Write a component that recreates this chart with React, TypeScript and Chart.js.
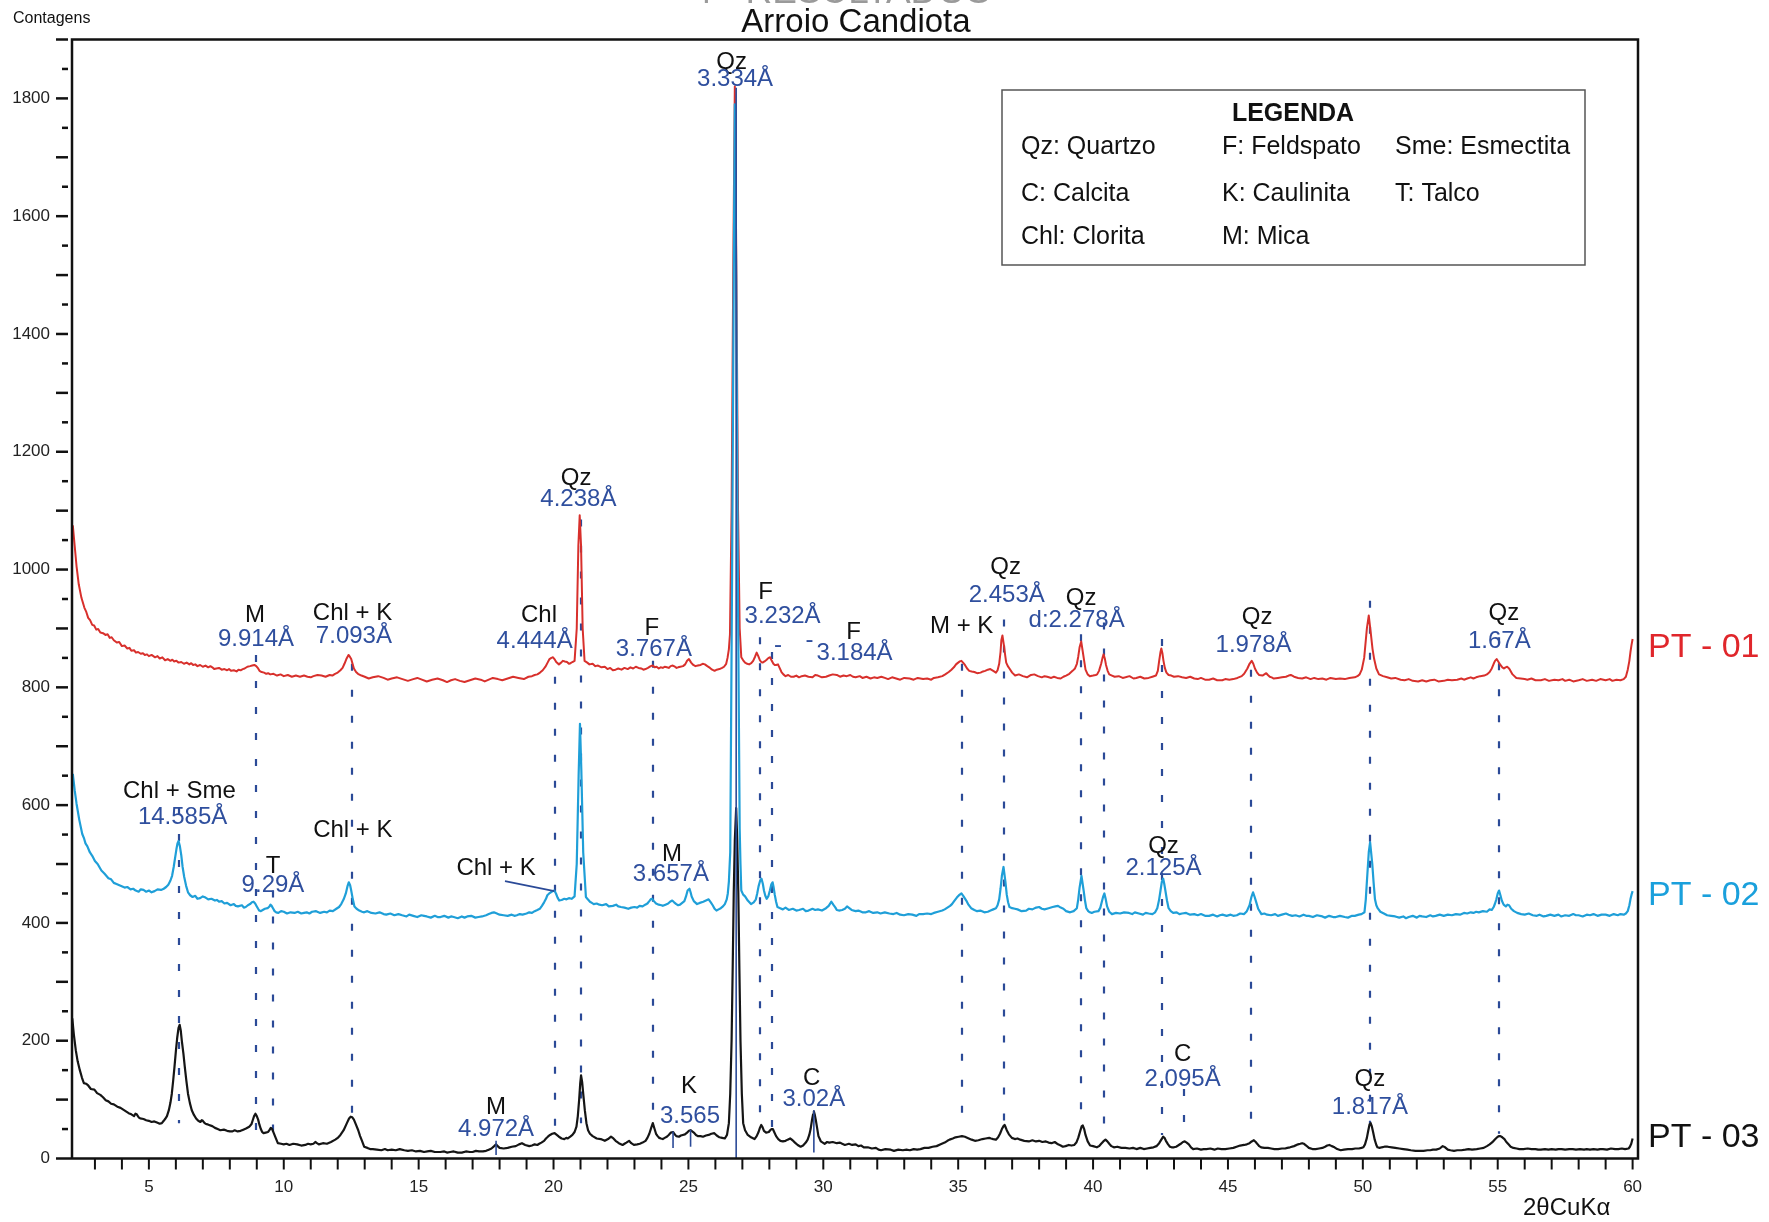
import React, { useEffect, useRef } from 'react';
import { Chart, registerables } from 'chart.js';

Chart.register(...registerables);

// ---------- DATA ----------
// [2θ (deg), counts]
const pt01: [number, number][] = [
  [2.18, 1075], [2.25, 1040], [2.32, 1005], [2.40, 975], [2.50, 952], [2.61, 935], [2.68, 928], [2.75, 918], [2.82, 914], [2.90, 906],
  [2.97, 905], [3.05, 898], [3.12, 899], [3.2, 893], [3.3, 892], [3.39, 889], [3.47, 890], [3.55, 884], [3.62, 885], [3.7, 880],
  [3.81, 876], [3.9, 877], [4.0, 870], [4.1, 871], [4.2, 866], [4.28, 867], [4.35, 862], [4.45, 863], [4.52, 859], [4.6, 860],
  [4.7, 857], [4.78, 858], [4.85, 855], [4.93, 856], [5.0, 853], [5.1, 855], [5.23, 851], [5.32, 853], [5.4, 849], [5.5, 851],
  [5.6, 846], [5.7, 848], [5.8, 845], [5.87, 847], [5.93, 844], [6.02, 845], [6.1, 842], [6.2, 843], [6.3, 840], [6.4, 842],
  [6.5, 839], [6.57, 841], [6.64, 838], [6.72, 839], [6.8, 836], [6.9, 838], [7.0, 835], [7.1, 837], [7.2, 834], [7.28, 836],
  [7.35, 834], [7.42, 831], [7.5, 832], [7.6, 833], [7.7, 830], [7.8, 831], [7.9, 829], [7.97, 831], [8.05, 828], [8.15, 829],
  [8.25, 827], [8.32, 830], [8.4, 829], [8.48, 831], [8.55, 832], [8.65, 835], [8.75, 836], [8.83, 837], [8.91, 838], [8.98, 836],
  [9.05, 832], [9.1, 828], [9.18, 826], [9.27, 825], [9.35, 823], [9.42, 824], [9.5, 822], [9.62, 823], [9.75, 820], [9.88, 822],
  [10.0, 819], [10.15, 821], [10.3, 818], [10.45, 820], [10.6, 818], [10.75, 820], [10.88, 818], [11.0, 817], [11.1, 819], [11.25, 821],
  [11.4, 820], [11.55, 818], [11.7, 821], [11.8, 820], [11.9, 823], [12.0, 825], [12.1, 829], [12.18, 833], [12.25, 840], [12.32, 848],
  [12.40, 855], [12.45, 852], [12.5, 848], [12.55, 840], [12.6, 832], [12.68, 826], [12.75, 823], [12.88, 820], [13.0, 818], [13.15, 815],
  [13.3, 817], [13.5, 819], [13.7, 816], [13.85, 813], [14.0, 815], [14.2, 817], [14.4, 814], [14.6, 811], [14.8, 814], [14.95, 816],
  [15.12, 813], [15.3, 810], [15.5, 813], [15.7, 815], [15.9, 812], [16.05, 809], [16.2, 812], [16.35, 814], [16.53, 811], [16.7, 809],
  [16.9, 812], [17.1, 815], [17.3, 813], [17.45, 810], [17.6, 813], [17.75, 816], [17.94, 814], [18.1, 812], [18.3, 815], [18.5, 818],
  [18.7, 816], [18.9, 814], [19.07, 818], [19.2, 819], [19.3, 821], [19.4, 822], [19.5, 825], [19.6, 829], [19.7, 835], [19.78, 842],
  [19.85, 848], [19.92, 850], [19.98, 851], [20.05, 847], [20.1, 843], [20.2, 839], [20.28, 842], [20.35, 845], [20.42, 844], [20.5, 843],
  [20.57, 840], [20.63, 841], [20.7, 843], [20.78, 845], [20.86, 900], [20.92, 1040], [20.97, 1092], [21.02, 1040], [21.08, 900], [21.15, 845],
  [21.25, 842], [21.33, 839], [21.45, 840], [21.55, 836], [21.65, 837], [21.78, 834], [21.9, 835], [22.0, 831], [22.1, 833], [22.2, 829],
  [22.3, 830], [22.4, 832], [22.52, 830], [22.63, 833], [22.75, 831], [22.85, 834], [22.95, 832], [23.05, 835], [23.15, 833], [23.25, 832],
  [23.33, 830], [23.41, 831], [23.5, 833], [23.6, 836], [23.68, 837], [23.75, 834], [23.82, 835], [23.9, 832], [23.97, 834], [24.05, 833],
  [24.12, 835], [24.2, 834], [24.27, 833], [24.34, 836], [24.42, 837], [24.5, 835], [24.56, 833], [24.62, 834], [24.7, 835], [24.8, 836],
  [24.88, 839], [24.95, 845], [25.02, 848], [25.1, 842], [25.18, 838], [25.26, 836], [25.35, 837], [25.45, 838], [25.53, 840], [25.61, 839],
  [25.7, 836], [25.8, 833], [25.88, 830], [25.97, 828], [26.05, 830], [26.15, 831], [26.25, 833], [26.32, 835], [26.4, 840], [26.45, 850],
  [26.5, 865], [26.54, 890], [26.6, 1100], [26.66, 1500], [26.72, 1820], [26.78, 1500], [26.84, 1100], [26.9, 900], [26.96, 851], [27.03, 846],
  [27.1, 842], [27.18, 840], [27.25, 839], [27.33, 841], [27.4, 845], [27.47, 852], [27.53, 859], [27.59, 853], [27.65, 846], [27.7, 843],
  [27.75, 842], [27.82, 844], [27.9, 847], [27.97, 850], [28.03, 851], [28.09, 845], [28.15, 840], [28.2, 838], [28.25, 838], [28.32, 839],
  [28.38, 833], [28.45, 826], [28.52, 822], [28.6, 819], [28.7, 821], [28.8, 818], [28.9, 818], [29.0, 820], [29.1, 817], [29.2, 819],
  [29.32, 820], [29.45, 818], [29.6, 817], [29.7, 821], [29.8, 820], [29.95, 817], [30.1, 818], [30.22, 820], [30.35, 822], [30.5, 821],
  [30.62, 818], [30.75, 820], [30.87, 819], [31.0, 821], [31.1, 818], [31.2, 817], [31.35, 819], [31.45, 816], [31.6, 818], [31.75, 815],
  [31.88, 817], [32.0, 816], [32.15, 818], [32.28, 816], [32.4, 814], [32.55, 817], [32.7, 815], [32.85, 813], [33.0, 816], [33.2, 815],
  [33.35, 813], [33.5, 816], [33.7, 814], [33.85, 815], [34.0, 813], [34.1, 816], [34.25, 817], [34.41, 819], [34.52, 822], [34.65, 826],
  [34.75, 830], [34.84, 834], [34.92, 839], [35.0, 842], [35.06, 844], [35.12, 845], [35.18, 842], [35.25, 838], [35.33, 832], [35.41, 828],
  [35.5, 827], [35.6, 826], [35.7, 824], [35.83, 825], [35.92, 827], [36.0, 828], [36.1, 830], [36.19, 831], [36.3, 828], [36.4, 825],
  [36.46, 829], [36.52, 840], [36.57, 860], [36.6, 880], [36.64, 888], [36.7, 870], [36.74, 855], [36.78, 842], [36.84, 836], [36.9, 832],
  [37.0, 825], [37.11, 820], [37.25, 822], [37.4, 819], [37.55, 817], [37.7, 821], [37.82, 822], [37.96, 819], [38.1, 817], [38.2, 819],
  [38.3, 818], [38.45, 816], [38.55, 818], [38.67, 816], [38.8, 815], [38.9, 818], [39.0, 820], [39.12, 823], [39.24, 828], [39.33, 832],
  [39.4, 840], [39.45, 852], [39.5, 868], [39.56, 878], [39.62, 860], [39.67, 845], [39.72, 830], [39.8, 822], [39.88, 819], [40.0, 820],
  [40.1, 821], [40.15, 822], [40.22, 828], [40.3, 840], [40.35, 850], [40.39, 856], [40.44, 848], [40.48, 838], [40.54, 828], [40.6, 822],
  [40.7, 820], [40.8, 818], [40.95, 819], [41.1, 816], [41.2, 817], [41.35, 819], [41.5, 815], [41.6, 816], [41.75, 818], [41.9, 815],
  [42.06, 816], [42.2, 818], [42.33, 820], [42.4, 828], [42.45, 845], [42.5, 860], [42.53, 866], [42.57, 858], [42.61, 845], [42.66, 833],
  [42.72, 825], [42.8, 821], [42.9, 820], [43.0, 818], [43.15, 819], [43.3, 817], [43.45, 816], [43.6, 818], [43.75, 815], [43.88, 814],
  [44.0, 816], [44.15, 813], [44.3, 813], [44.45, 815], [44.6, 812], [44.79, 812], [44.9, 814], [45.05, 813], [45.2, 814], [45.35, 816],
  [45.51, 819], [45.6, 823], [45.72, 832], [45.8, 840], [45.88, 845], [45.94, 840], [46.0, 832], [46.08, 825], [46.15, 821], [46.28, 820],
  [46.35, 822], [46.42, 824], [46.48, 821], [46.55, 818], [46.62, 817], [46.7, 815], [46.85, 816], [47.0, 817], [47.15, 818], [47.25, 820],
  [47.33, 821], [47.45, 818], [47.6, 816], [47.75, 815], [47.9, 817], [48.06, 814], [48.2, 816], [48.35, 814], [48.5, 815], [48.65, 813],
  [48.8, 816], [49.0, 814], [49.15, 815], [49.33, 814], [49.5, 816], [49.7, 817], [49.8, 819], [49.88, 822], [49.96, 830], [50.05, 850],
  [50.15, 900], [50.22, 922], [50.3, 890], [50.36, 865], [50.42, 848], [50.5, 832], [50.6, 822], [50.75, 819], [50.9, 817], [51.05, 815],
  [51.2, 816], [51.4, 813], [51.55, 812], [51.7, 814], [51.85, 811], [52.05, 810], [52.2, 812], [52.35, 810], [52.5, 812], [52.65, 813],
  [52.8, 810], [53.0, 811], [53.15, 813], [53.3, 812], [53.5, 813], [53.65, 815], [53.75, 813], [53.87, 815], [54.0, 817], [54.1, 815],
  [54.2, 817], [54.35, 819], [54.5, 820], [54.6, 822], [54.7, 826], [54.78, 832], [54.85, 840], [54.9, 845], [54.96, 848], [55.03, 843],
  [55.1, 838], [55.17, 834], [55.23, 832], [55.29, 834], [55.35, 835], [55.4, 833], [55.45, 830], [55.55, 822], [55.69, 816], [55.85, 815],
  [56.0, 814], [56.1, 813], [56.25, 815], [56.4, 812], [56.6, 812], [56.75, 814], [56.9, 811], [57.1, 813], [57.25, 812], [57.4, 814],
  [57.5, 811], [57.65, 813], [57.8, 810], [58.0, 812], [58.15, 814], [58.3, 811], [58.5, 813], [58.65, 811], [58.8, 814], [59.0, 812],
  [59.15, 814], [59.25, 811], [59.4, 813], [59.55, 812], [59.67, 814], [59.75, 818], [59.82, 830], [59.88, 845], [59.92, 860], [59.96, 872],
  [60.0, 882],
];

const pt02: [number, number][] = [
  [2.18, 653], [2.25, 625], [2.32, 602], [2.42, 575], [2.53, 551], [2.6, 543], [2.65, 535], [2.72, 530], [2.81, 520], [2.9, 514],
  [3.0, 505], [3.1, 500], [3.24, 489], [3.35, 484], [3.5, 476], [3.6, 474], [3.7, 468], [3.8, 466], [3.95, 463], [4.1, 460],
  [4.2, 461], [4.32, 457], [4.42, 458], [4.51, 455], [4.62, 453], [4.7, 457], [4.8, 456], [4.9, 453], [5.0, 455], [5.1, 452],
  [5.21, 454], [5.32, 457], [5.45, 456], [5.55, 458], [5.64, 461], [5.72, 465], [5.8, 472], [5.86, 480], [5.92, 495], [5.97, 510],
  [6.02, 525], [6.06, 535], [6.10, 539], [6.15, 530], [6.2, 515], [6.25, 495], [6.31, 478], [6.38, 463], [6.45, 452], [6.53, 447],
  [6.62, 444], [6.72, 446], [6.8, 441], [6.9, 442], [7.0, 445], [7.1, 443], [7.2, 440], [7.32, 441], [7.45, 438], [7.52, 439],
  [7.6, 436], [7.7, 437], [7.8, 433], [7.9, 434], [8.03, 430], [8.15, 432], [8.22, 429], [8.3, 428], [8.45, 430], [8.52, 426],
  [8.59, 427], [8.67, 430], [8.75, 432], [8.82, 435], [8.88, 436], [8.94, 433], [9.0, 428], [9.05, 424], [9.09, 421], [9.15, 420],
  [9.22, 422], [9.3, 424], [9.4, 425], [9.47, 428], [9.51, 431], [9.55, 429], [9.6, 425], [9.66, 420], [9.72, 418], [9.8, 417],
  [9.9, 420], [10.0, 419], [10.12, 416], [10.25, 418], [10.4, 417], [10.52, 419], [10.65, 416], [10.75, 417], [10.85, 418], [10.95, 416],
  [11.05, 419], [11.2, 420], [11.35, 417], [11.5, 419], [11.6, 418], [11.7, 421], [11.82, 420], [11.95, 424], [12.05, 427], [12.13, 432],
  [12.22, 440], [12.3, 450], [12.36, 462], [12.41, 469], [12.46, 464], [12.5, 455], [12.56, 440], [12.62, 428], [12.7, 424], [12.8, 421],
  [12.9, 419], [12.98, 418], [13.1, 420], [13.25, 417], [13.4, 416], [13.55, 418], [13.7, 415], [13.8, 414], [13.95, 416], [14.1, 413],
  [14.25, 415], [14.39, 413], [14.55, 411], [14.65, 414], [14.8, 412], [14.95, 410], [15.1, 413], [15.2, 412], [15.3, 411], [15.45, 409],
  [15.6, 412], [15.7, 410], [15.81, 410], [15.95, 412], [16.1, 409], [16.2, 411], [16.3, 410], [16.45, 408], [16.6, 411], [16.7, 409],
  [16.8, 411], [16.95, 412], [17.1, 409], [17.22, 410], [17.35, 411], [17.5, 413], [17.6, 415], [17.7, 417], [17.79, 418], [17.9, 416],
  [18.0, 414], [18.15, 413], [18.3, 412], [18.45, 414], [18.55, 412], [18.64, 413], [18.75, 415], [18.85, 414], [19.0, 416], [19.1, 418],
  [19.2, 417], [19.3, 420], [19.4, 422], [19.49, 424], [19.57, 429], [19.65, 435], [19.72, 441], [19.77, 447], [19.84, 450], [19.9, 452],
  [19.97, 454], [20.03, 455], [20.09, 450], [20.15, 443], [20.21, 438], [20.3, 439], [20.4, 441], [20.48, 440], [20.57, 442], [20.67, 441],
  [20.78, 445], [20.86, 500], [20.93, 650], [20.98, 738], [21.03, 660], [21.1, 520], [21.2, 444], [21.27, 440], [21.35, 436], [21.42, 434],
  [21.49, 432], [21.6, 433], [21.7, 431], [21.8, 430], [21.95, 432], [22.05, 428], [22.2, 429], [22.32, 431], [22.4, 428], [22.5, 427],
  [22.63, 426], [22.77, 424], [22.88, 426], [23.0, 427], [23.1, 426], [23.19, 429], [23.3, 428], [23.4, 431], [23.48, 433], [23.55, 437],
  [23.6, 440], [23.65, 441], [23.72, 437], [23.8, 433], [23.9, 431], [24.0, 430], [24.05, 429], [24.15, 431], [24.25, 433], [24.32, 436],
  [24.4, 438], [24.47, 435], [24.55, 432], [24.62, 430], [24.69, 431], [24.77, 434], [24.85, 437], [24.91, 445], [24.97, 455], [25.04, 458],
  [25.08, 452], [25.12, 445], [25.2, 437], [25.32, 432], [25.42, 434], [25.55, 436], [25.65, 438], [25.75, 440], [25.83, 435], [25.9, 430],
  [25.97, 424], [26.04, 421], [26.12, 423], [26.2, 425], [26.28, 428], [26.35, 432], [26.42, 440], [26.46, 450], [26.5, 470], [26.55, 520],
  [26.62, 1000], [26.68, 1500], [26.72, 1790], [26.77, 1500], [26.83, 1000], [26.9, 560], [26.93, 500], [26.96, 455], [27.03, 448], [27.1, 445],
  [27.2, 438], [27.32, 432], [27.42, 435], [27.5, 440], [27.55, 450], [27.6, 462], [27.66, 472], [27.71, 475], [27.76, 466], [27.8, 455],
  [27.85, 446], [27.9, 441], [27.96, 445], [28.02, 455], [28.07, 465], [28.12, 469], [28.16, 460], [28.2, 448], [28.25, 436], [28.3, 427],
  [28.4, 425], [28.5, 423], [28.6, 426], [28.72, 422], [28.87, 424], [29.0, 421], [29.1, 422], [29.25, 424], [29.35, 420], [29.45, 421],
  [29.6, 424], [29.7, 422], [29.8, 423], [29.95, 421], [30.1, 425], [30.2, 429], [30.3, 436], [30.37, 431], [30.45, 426], [30.5, 422],
  [30.58, 421], [30.7, 422], [30.8, 424], [30.88, 428], [30.94, 426], [31.05, 422], [31.2, 420], [31.3, 421], [31.45, 418], [31.58, 418],
  [31.7, 420], [31.85, 417], [32.0, 418], [32.12, 416], [32.28, 418], [32.45, 416], [32.6, 415], [32.72, 417], [32.85, 414], [32.99, 413],
  [33.15, 415], [33.3, 414], [33.45, 412], [33.55, 415], [33.7, 415], [33.85, 416], [34.0, 415], [34.1, 417], [34.25, 419], [34.41, 421],
  [34.5, 423], [34.6, 426], [34.7, 429], [34.77, 432], [34.85, 437], [34.95, 443], [35.03, 447], [35.12, 450], [35.2, 445], [35.3, 438],
  [35.38, 431], [35.48, 425], [35.6, 422], [35.7, 420], [35.82, 421], [35.97, 418], [36.1, 419], [36.2, 421], [36.3, 423], [36.4, 425],
  [36.46, 430], [36.52, 440], [36.57, 458], [36.62, 480], [36.68, 495], [36.75, 470], [36.8, 448], [36.85, 435], [36.9, 427], [37.0, 425],
  [37.1, 424], [37.2, 423], [37.35, 420], [37.52, 421], [37.62, 424], [37.75, 423], [37.89, 426], [38.0, 427], [38.1, 424], [38.2, 423],
  [38.35, 425], [38.5, 427], [38.6, 428], [38.7, 429], [38.8, 426], [38.9, 424], [39.0, 420], [39.15, 418], [39.28, 420], [39.4, 425],
  [39.45, 440], [39.5, 460], [39.57, 480], [39.65, 455], [39.7, 438], [39.75, 425], [39.82, 420], [39.88, 418], [39.95, 417], [40.05, 419],
  [40.2, 420], [40.27, 426], [40.32, 435], [40.37, 444], [40.42, 450], [40.47, 440], [40.52, 428], [40.6, 419], [40.7, 415], [40.85, 417],
  [41.0, 416], [41.15, 418], [41.33, 417], [41.45, 415], [41.55, 418], [41.7, 416], [41.85, 414], [41.95, 417], [42.06, 416], [42.2, 415],
  [42.3, 418], [42.38, 425], [42.45, 440], [42.5, 455], [42.55, 470], [42.6, 475], [42.64, 466], [42.68, 455], [42.74, 438], [42.8, 425],
  [42.88, 420], [42.97, 417], [43.1, 418], [43.2, 415], [43.3, 416], [43.45, 417], [43.6, 414], [43.75, 415], [43.88, 413], [44.0, 415],
  [44.15, 412], [44.3, 412], [44.45, 414], [44.6, 411], [44.7, 413], [44.8, 414], [44.95, 412], [45.1, 414], [45.2, 412], [45.33, 413],
  [45.45, 416], [45.6, 415], [45.7, 420], [45.8, 430], [45.87, 444], [45.93, 452], [45.99, 444], [46.05, 435], [46.12, 424], [46.24, 415],
  [46.35, 416], [46.45, 414], [46.6, 413], [46.75, 415], [46.85, 412], [47.0, 414], [47.15, 416], [47.25, 414], [47.38, 412], [47.51, 413],
  [47.65, 411], [47.8, 414], [47.9, 412], [48.0, 412], [48.15, 410], [48.3, 413], [48.5, 411], [48.6, 409], [48.75, 412], [48.9, 410],
  [49.0, 410], [49.15, 412], [49.33, 410], [49.45, 409], [49.6, 412], [49.7, 412], [49.85, 414], [49.95, 415], [50.06, 418], [50.11, 440],
  [50.15, 470], [50.22, 520], [50.27, 537], [50.35, 500], [50.4, 468], [50.45, 440], [50.5, 430], [50.55, 425], [50.65, 419], [50.78, 416],
  [50.9, 413], [51.05, 412], [51.2, 411], [51.35, 409], [51.5, 411], [51.6, 408], [51.7, 410], [51.85, 412], [52.0, 409], [52.1, 412],
  [52.2, 411], [52.35, 410], [52.5, 413], [52.6, 411], [52.7, 412], [52.85, 414], [53.0, 412], [53.15, 414], [53.3, 413], [53.45, 415],
  [53.6, 414], [53.75, 417], [53.87, 416], [54.0, 418], [54.1, 417], [54.2, 419], [54.3, 418], [54.45, 420], [54.6, 419], [54.7, 423],
  [54.78, 422], [54.85, 427], [54.9, 433], [54.95, 440], [55.0, 450], [55.05, 455], [55.1, 447], [55.15, 438], [55.22, 431], [55.3, 428],
  [55.36, 431], [55.42, 430], [55.5, 424], [55.6, 420], [55.72, 417], [55.87, 415], [56.0, 414], [56.15, 416], [56.3, 413], [56.45, 412],
  [56.55, 414], [56.7, 411], [56.8, 412], [56.95, 414], [57.1, 412], [57.25, 414], [57.35, 411], [57.5, 413], [57.65, 412], [57.8, 415],
  [57.9, 413], [58.0, 413], [58.15, 411], [58.3, 414], [58.42, 413], [58.55, 415], [58.7, 412], [58.85, 414], [59.0, 414], [59.15, 412],
  [59.3, 415], [59.45, 413], [59.55, 415], [59.67, 414], [59.75, 416], [59.82, 420], [59.88, 430], [59.92, 440], [59.96, 448], [60.0, 454],
];

const pt03: [number, number][] = [
  [2.16, 238], [2.22, 210], [2.29, 184], [2.36, 165], [2.44, 150], [2.52, 137], [2.59, 128], [2.67, 127], [2.75, 124], [2.85, 118],
  [2.98, 117], [3.08, 111], [3.2, 108], [3.3, 104], [3.40, 99], [3.5, 97], [3.6, 93], [3.7, 92], [3.83, 88], [3.95, 86],
  [4.05, 83], [4.15, 80], [4.25, 77], [4.35, 75], [4.45, 72], [4.5, 76], [4.55, 75], [4.62, 70], [4.68, 68], [4.8, 67],
  [4.9, 65], [5.0, 64], [5.1, 62], [5.2, 63], [5.3, 61], [5.4, 59], [5.48, 60], [5.55, 64], [5.6, 67], [5.67, 72],
  [5.74, 82], [5.8, 95], [5.85, 110], [5.9, 132], [5.95, 156], [6.0, 182], [6.05, 205], [6.1, 222], [6.14, 227], [6.18, 218],
  [6.22, 200], [6.28, 178], [6.33, 156], [6.39, 132], [6.45, 110], [6.52, 94], [6.59, 82], [6.67, 74], [6.75, 68], [6.83, 64],
  [6.91, 62], [6.96, 65], [7.0, 64], [7.05, 61], [7.1, 59], [7.17, 58], [7.23, 57], [7.35, 55], [7.45, 52], [7.55, 50],
  [7.65, 48], [7.78, 49], [7.9, 47], [8.0, 46], [8.1, 46], [8.18, 48], [8.29, 46], [8.4, 47], [8.5, 49], [8.6, 51],
  [8.72, 54], [8.8, 58], [8.85, 65], [8.9, 72], [8.95, 76], [9.0, 72], [9.05, 66], [9.1, 57], [9.15, 50], [9.2, 45],
  [9.25, 43], [9.33, 44], [9.42, 45], [9.48, 49], [9.52, 52], [9.57, 50], [9.63, 43], [9.7, 35], [9.78, 26], [9.9, 25],
  [10.0, 24], [10.1, 25], [10.21, 23], [10.35, 25], [10.5, 24], [10.65, 22], [10.8, 23], [10.9, 25], [11.0, 24], [11.1, 25],
  [11.17, 28], [11.23, 26], [11.3, 24], [11.45, 26], [11.6, 25], [11.75, 28], [11.91, 32], [12.0, 35], [12.1, 40], [12.22, 48],
  [12.34, 60], [12.42, 68], [12.48, 71], [12.54, 70], [12.6, 66], [12.68, 57], [12.76, 48], [12.83, 38], [12.9, 30], [12.98, 20],
  [13.1, 18], [13.2, 16], [13.3, 16], [13.45, 15], [13.62, 14], [13.75, 16], [13.85, 14], [14.0, 15], [14.15, 14], [14.3, 16],
  [14.47, 14], [14.6, 13], [14.75, 14], [14.9, 12], [15.05, 13], [15.2, 11], [15.32, 12], [15.45, 13], [15.6, 11], [15.8, 11],
  [15.95, 12], [16.05, 10], [16.17, 11], [16.3, 12], [16.45, 10], [16.6, 10], [16.75, 12], [16.9, 11], [17.0, 11], [17.12, 13],
  [17.24, 12], [17.38, 12], [17.5, 13], [17.6, 15], [17.7, 17], [17.8, 21], [17.87, 24], [17.93, 21], [18.0, 18], [18.15, 17],
  [18.3, 18], [18.45, 20], [18.6, 21], [18.72, 24], [18.83, 26], [18.95, 23], [19.1, 21], [19.2, 22], [19.3, 24], [19.4, 23],
  [19.47, 25], [19.55, 27], [19.65, 30], [19.72, 34], [19.79, 37], [19.87, 40], [19.95, 42], [20.04, 43], [20.12, 40], [20.2, 37],
  [20.3, 34], [20.4, 33], [20.47, 35], [20.53, 34], [20.62, 37], [20.7, 40], [20.78, 45], [20.85, 54], [20.9, 72], [20.95, 100],
  [20.99, 128], [21.02, 141], [21.06, 130], [21.1, 110], [21.16, 82], [21.22, 60], [21.28, 48], [21.35, 42], [21.45, 38], [21.6, 34],
  [21.75, 33], [21.9, 30], [22.02, 33], [22.13, 37], [22.22, 34], [22.3, 30], [22.42, 26], [22.56, 23], [22.63, 25], [22.7, 27],
  [22.8, 30], [22.88, 26], [22.98, 23], [23.1, 24], [23.2, 25], [23.3, 27], [23.41, 30], [23.48, 35], [23.55, 42], [23.62, 52],
  [23.68, 60], [23.74, 51], [23.8, 42], [23.86, 38], [23.92, 35], [23.98, 34], [24.05, 33], [24.12, 35], [24.2, 37], [24.27, 40],
  [24.35, 44], [24.43, 45], [24.49, 41], [24.55, 38], [24.65, 37], [24.72, 39], [24.79, 40], [24.87, 41], [24.95, 44], [25.02, 47],
  [25.08, 48], [25.14, 46], [25.2, 44], [25.28, 40], [25.35, 38], [25.45, 38], [25.54, 37], [25.65, 39], [25.75, 40], [25.85, 42],
  [25.96, 43], [26.05, 39], [26.15, 36], [26.25, 35], [26.35, 34], [26.43, 40], [26.5, 60], [26.55, 110], [26.6, 200], [26.64, 320],
  [26.68, 450], [26.72, 540], [26.77, 595], [26.81, 540], [26.85, 450], [26.89, 320], [26.93, 200], [26.98, 110], [27.03, 60], [27.1, 48],
  [27.2, 40], [27.32, 36], [27.45, 33], [27.53, 38], [27.6, 45], [27.65, 52], [27.70, 57], [27.75, 53], [27.8, 47], [27.88, 44],
  [27.98, 45], [28.03, 48], [28.08, 50], [28.13, 50], [28.18, 45], [28.25, 38], [28.33, 33], [28.41, 30], [28.5, 29], [28.6, 30],
  [28.68, 32], [28.77, 34], [28.86, 31], [28.95, 27], [29.05, 23], [29.16, 20], [29.25, 22], [29.35, 27], [29.42, 32], [29.48, 40],
  [29.53, 50], [29.58, 65], [29.62, 75], [29.65, 80], [29.68, 75], [29.72, 66], [29.77, 52], [29.82, 38], [29.87, 33], [29.91, 29],
  [29.98, 27], [30.05, 25], [30.14, 28], [30.22, 27], [30.35, 28], [30.5, 26], [30.62, 27], [30.7, 25], [30.8, 23], [30.95, 25],
  [31.07, 23], [31.2, 24], [31.3, 21], [31.4, 22], [31.5, 19], [31.65, 19], [31.8, 17], [31.95, 18], [32.05, 15], [32.14, 14],
  [32.3, 16], [32.5, 15], [32.62, 13], [32.78, 15], [32.95, 14], [33.08, 15], [33.21, 14], [33.35, 16], [33.48, 15], [33.6, 16],
  [33.75, 18], [33.9, 18], [34.05, 20], [34.2, 21], [34.35, 24], [34.5, 27], [34.6, 30], [34.68, 32], [34.8, 34], [34.9, 36],
  [35.02, 37], [35.14, 38], [35.25, 37], [35.35, 35], [35.5, 32], [35.62, 30], [35.75, 31], [35.9, 33], [36.02, 34], [36.15, 35],
  [36.22, 34], [36.3, 33], [36.4, 32], [36.48, 36], [36.55, 42], [36.62, 50], [36.68, 55], [36.72, 57], [36.76, 53], [36.8, 48],
  [36.88, 41], [36.99, 35], [37.1, 33], [37.2, 34], [37.3, 32], [37.45, 30], [37.62, 29], [37.75, 31], [37.88, 29], [38.0, 30],
  [38.12, 28], [38.25, 29], [38.35, 27], [38.46, 26], [38.58, 28], [38.7, 24], [38.8, 22], [38.88, 20], [38.98, 21], [39.1, 23],
  [39.2, 22], [39.30, 23], [39.38, 27], [39.45, 35], [39.52, 46], [39.58, 55], [39.62, 56], [39.67, 50], [39.72, 40], [39.8, 29],
  [39.89, 22], [40.0, 21], [40.14, 19], [40.22, 21], [40.3, 25], [40.38, 29], [40.46, 32], [40.53, 29], [40.6, 25], [40.68, 21],
  [40.77, 19], [40.9, 20], [41.05, 18], [41.2, 18], [41.35, 17], [41.48, 18], [41.61, 16], [41.75, 18], [41.88, 16], [42.0, 17],
  [42.12, 18], [42.24, 19], [42.35, 21], [42.45, 26], [42.53, 32], [42.6, 37], [42.65, 35], [42.7, 30], [42.78, 24], [42.85, 20],
  [42.91, 19], [43.0, 19], [43.08, 20], [43.15, 22], [43.25, 25], [43.33, 28], [43.4, 29], [43.47, 27], [43.55, 24], [43.63, 19],
  [43.71, 16], [43.85, 17], [44.0, 15], [44.1, 16], [44.2, 16], [44.35, 17], [44.5, 15], [44.62, 17], [44.76, 16], [44.9, 16],
  [45.05, 17], [45.2, 18], [45.32, 20], [45.45, 22], [45.6, 23], [45.7, 24], [45.8, 26], [45.88, 29], [45.96, 31], [46.03, 28],
  [46.1, 24], [46.16, 21], [46.23, 19], [46.35, 18], [46.48, 18], [46.6, 17], [46.72, 16], [46.86, 16], [47.0, 17], [47.12, 17],
  [47.2, 18], [47.3, 19], [47.45, 21], [47.6, 24], [47.68, 25], [47.75, 26], [47.82, 25], [47.9, 22], [48.0, 18], [48.13, 16],
  [48.25, 16], [48.38, 17], [48.5, 18], [48.6, 20], [48.68, 22], [48.76, 23], [48.85, 21], [48.95, 19], [49.05, 16], [49.18, 14],
  [49.3, 15], [49.45, 16], [49.6, 16], [49.72, 17], [49.85, 17], [49.95, 18], [50.02, 19], [50.08, 24], [50.15, 35], [50.2, 47],
  [50.25, 58], [50.29, 60], [50.33, 55], [50.38, 45], [50.44, 32], [50.5, 23], [50.54, 19], [50.62, 18], [50.7, 19], [50.8, 20],
  [50.92, 20], [51.07, 19], [51.2, 18], [51.35, 17], [51.5, 16], [51.65, 15], [51.78, 14], [51.95, 13], [52.12, 13], [52.25, 13],
  [52.4, 14], [52.5, 14], [52.6, 15], [52.72, 15], [52.85, 17], [52.96, 21], [53.05, 19], [53.15, 15], [53.25, 14], [53.38, 13],
  [53.5, 14], [53.65, 14], [53.8, 15], [53.92, 16], [54.05, 15], [54.22, 16], [54.35, 17], [54.48, 18], [54.6, 21], [54.7, 24],
  [54.78, 27], [54.85, 30], [54.93, 34], [55.0, 37], [55.05, 38], [55.1, 38], [55.17, 36], [55.25, 33], [55.32, 28], [55.4, 24],
  [55.48, 20], [55.58, 18], [55.7, 17], [55.8, 16], [55.95, 16], [56.11, 17], [56.25, 16], [56.4, 16], [56.5, 15], [56.6, 15],
  [56.75, 16], [56.88, 15], [57.0, 16], [57.15, 15], [57.25, 16], [57.37, 16], [57.5, 15], [57.65, 16], [57.78, 16], [57.9, 15],
  [58.05, 16], [58.2, 15], [58.3, 16], [58.42, 15], [58.55, 16], [58.7, 15], [58.8, 16], [58.9, 16], [59.05, 15], [59.2, 17],
  [59.35, 16], [59.47, 16], [59.6, 17], [59.72, 16], [59.85, 17], [59.9, 20], [59.95, 25], [60.0, 34],
];

const seriesNames = ['PT - 01', 'PT - 02', 'PT - 03'];
const seriesNameY = [868, 447, 35];

// peak marker dashed lines: [2θ, top count, bottom count]
const dashedLines: [number, number, number][] = [
  [6.13, 595, 60], [8.97, 855, 42], [9.6, 455, 46], [12.52, 840, 60], [20.04, 818, 45], [21.0, 1085, 60],
  [23.68, 845, 62], [27.65, 885, 48], [28.11, 860, 38], [35.13, 840, 75], [36.68, 915, 60], [39.56, 890, 60],
  [40.4, 910, 35], [42.57, 882, 40], [43.36, 118, 45], [45.87, 830, 40], [50.26, 947, 60], [55.06, 885, 42],
];
// solid marker segments: [x1, y1, x2, y2]
const solidLines: [number, number, number, number][] = [
  [26.77, 1818, 26.77, 0], [17.87, 30, 17.87, 6], [24.43, 46, 24.43, 18], [25.08, 49, 25.08, 20],
  [29.65, 82, 29.65, 10], [18.2, 471, 20.03, 454],
];
// mineral labels [text, 2θ, count]
const mineralLabels: [string, number, number][] = [
  ['M', 8.93, 922], ['Chl + K', 12.55, 926], ['Chl', 19.46, 922], ['Qz', 20.84, 1154], ['F', 23.64, 900],
  ['Qz', 26.6, 1862], ['F', 27.86, 961], ['F', 31.12, 894], ['M + K', 35.13, 903], ['Qz', 36.76, 1003],
  ['Qz', 39.56, 951], ['Qz', 46.08, 919], ['Qz', 55.23, 926],
  ['Chl + Sme', 6.13, 624], ['T', 9.6, 496], ['Chl + K', 12.56, 557], ['Chl + K', 17.87, 492], ['M', 24.39, 517],
  ['Qz', 42.61, 530],
  ['M', 17.87, 86], ['K', 25.02, 122], ['C', 29.57, 136], ['C', 43.32, 176], ['Qz', 50.26, 134],
];
// d-spacing labels [text, 2θ, count]
const spacingLabels: [string, number, number][] = [
  ['9.914Å', 8.97, 882], ['7.093Å', 12.6, 886], ['4.444Å', 19.3, 878], ['4.238Å', 20.92, 1120], ['3.767Å', 23.72, 865],
  ['3.334Å', 26.73, 1832], ['3.232Å', 28.49, 921], ['3.184Å', 31.16, 857], ['2.453Å', 36.8, 957],
  ['d:2.278Å', 39.39, 913], ['1.978Å', 45.95, 871], ['1.67Å', 55.06, 878], ['-', 28.32, 871], ['-', 29.49, 879],
  ['14.585Å', 6.25, 580], ['9.29Å', 9.6, 463], ['3.657Å', 24.35, 482], ['2.125Å', 42.61, 492],
  ['4.972Å', 17.87, 50], ['3.565', 25.06, 71], ['3.02Å', 29.65, 100], ['2.095Å', 43.32, 134], ['1.817Å', 50.26, 86],
];

const legendTitle = 'LEGENDA';
const legendRows: string[][] = [
  ['Qz: Quartzo', 'F: Feldspato', 'Sme: Esmectita'],
  ['C: Calcita', 'K: Caulinita', 'T: Talco'],
  ['Chl: Clorita', 'M: Mica', ''],
];
const chartTitle = 'Arroio Candiota';
const pageHeader = '4 - RESULTADOS';
const yAxisTitle = 'Contagens';
const xAxisTitle = '2θCuKα';

const X_MIN = 2.15, X_MAX = 60.2, X_STEP = 1, X_LABEL_STEP = 5;
const Y_MIN = 0, Y_MAX = 1900, Y_STEP = 50, Y_LABEL_STEP = 200;

// ---------- STYLE ----------
const FONT = '"Liberation Sans", Arial, Helvetica, sans-serif';
const RED = '#d8302c';
const CYAN = '#1f9fd8';
const BLACK = '#151515';
const MARK_BLUE = '#2b4a97';
const TEXT_BLUE = '#2f4f9e';
const seriesColors = [RED, CYAN, BLACK];
const seriesNameColors = ['#e0262b', '#1aa0dc', '#111111'];

const decorPlugin = {
  id: 'decor',
  beforeDraw(chart: any) {
    const { ctx, width, height } = chart;
    ctx.save();
    ctx.fillStyle = '#ffffff';
    ctx.fillRect(0, 0, width, height);
    ctx.restore();
  },
  beforeDatasetsDraw(chart: any) {
    const { ctx } = chart;
    const xs = chart.scales.x, ys = chart.scales.y;
    ctx.save();
    ctx.strokeStyle = MARK_BLUE;
    ctx.lineWidth = 2.2;
    ctx.setLineDash([7, 19]);
    for (const [xv, top, bot] of dashedLines) {
      const px = Math.round(xs.getPixelForValue(xv));
      ctx.beginPath();
      ctx.moveTo(px, ys.getPixelForValue(top));
      ctx.lineTo(px, ys.getPixelForValue(bot));
      ctx.stroke();
    }
    ctx.restore();
  },
  afterDatasetsDraw(chart: any) {
    const { ctx, chartArea } = chart;
    const xs = chart.scales.x, ys = chart.scales.y;
    const { left, right, top, bottom } = chartArea;
    ctx.save();

    ctx.strokeStyle = MARK_BLUE;
    ctx.lineWidth = 1.6;
    for (const [x1, y1, x2, y2] of solidLines) {
      ctx.beginPath();
      ctx.moveTo(xs.getPixelForValue(x1), ys.getPixelForValue(y1));
      ctx.lineTo(xs.getPixelForValue(x2), ys.getPixelForValue(y2));
      ctx.stroke();
    }

    // frame
    ctx.strokeStyle = '#111';
    ctx.lineWidth = 2.5;
    ctx.beginPath();
    ctx.moveTo(left, bottom);
    ctx.lineTo(left, top);
    ctx.lineTo(right, top);
    ctx.lineTo(right, bottom);
    ctx.lineTo(left, bottom);
    ctx.stroke();

    // y ticks
    for (let v = Y_MIN; v <= Y_MAX; v += Y_STEP) {
      const py = ys.getPixelForValue(v);
      const long = v % 100 === 0;
      ctx.beginPath();
      ctx.moveTo(left - (long ? 16 : 10), py);
      ctx.lineTo(v === 0 ? left : left - 4, py);
      ctx.stroke();
    }
    // x ticks
    ctx.lineWidth = 2;
    for (let v = Math.ceil(X_MIN); v <= 60; v += X_STEP) {
      const px = xs.getPixelForValue(v);
      ctx.beginPath();
      ctx.moveTo(px, bottom);
      ctx.lineTo(px, bottom + 11);
      ctx.stroke();
    }

    // peak labels
    ctx.textAlign = 'center';
    ctx.textBaseline = 'middle';
    ctx.font = `24px ${FONT}`;
    ctx.fillStyle = '#111';
    for (const [t, xv, yv] of mineralLabels) {
      ctx.fillText(t, xs.getPixelForValue(xv), ys.getPixelForValue(yv));
    }
    ctx.fillStyle = TEXT_BLUE;
    for (const [t, xv, yv] of spacingLabels) {
      ctx.fillText(t, xs.getPixelForValue(xv), ys.getPixelForValue(yv));
    }

    // series names
    ctx.textAlign = 'left';
    ctx.font = `34px ${FONT}`;
    seriesNames.forEach((n, i) => {
      ctx.fillStyle = seriesNameColors[i];
      ctx.fillText(n, right + 10, ys.getPixelForValue(seriesNameY[i]));
    });

    // legend box
    ctx.strokeStyle = '#555';
    ctx.lineWidth = 1.5;
    ctx.strokeRect(1002, 90, 583, 175);
    ctx.fillStyle = '#111';
    ctx.textAlign = 'center';
    ctx.font = `bold 25px ${FONT}`;
    ctx.fillText(legendTitle, 1293, 114);
    ctx.textAlign = 'left';
    ctx.font = `25px ${FONT}`;
    const colX = [1021, 1222, 1395];
    const rowY = [147, 194, 237];
    legendRows.forEach((row, r) => row.forEach((t, c) => { if (t) ctx.fillText(t, colX[c], rowY[r]); }));

    // titles
    ctx.textBaseline = 'alphabetic';
    ctx.textAlign = 'center';
    ctx.font = `33px ${FONT}`;
    ctx.fillText(chartTitle, 856, 32);
    ctx.textAlign = 'left';
    ctx.fillStyle = '#9a9a9a';
    ctx.font = `37px ${FONT}`;
    ctx.fillText(pageHeader, 692, 3);
    ctx.fillStyle = '#111';
    ctx.font = `16px ${FONT}`;
    ctx.fillText(yAxisTitle, 13, 23);
    ctx.font = `24px ${FONT}`;
    ctx.fillText(xAxisTitle, 1523, 1215);

    ctx.restore();
  },
};

const toXY = (arr: [number, number][]) => arr.map(([x, y]) => ({ x, y }));

export default function App() {
  const ref = useRef<HTMLCanvasElement>(null);
  useEffect(() => {
    const canvas = ref.current;
    if (!canvas) return;
    const seriesData = [pt01, pt02, pt03];
    const chart = new Chart(canvas, {
      type: 'line',
      data: {
        datasets: seriesData.map((d, i) => ({
          label: seriesNames[i],
          data: toXY(d),
          borderColor: seriesColors[i],
          backgroundColor: seriesColors[i],
          borderWidth: i === 0 ? 2 : 2.2,
          borderJoinStyle: 'round' as const,
          pointRadius: 0,
          pointHoverRadius: 0,
          tension: 0,
          fill: false,
          order: 2 - i,
        })),
      },
      options: {
        responsive: false,
        animation: false,
        devicePixelRatio: 1,
        events: [],
        layout: { padding: { left: 0, top: 39.5, right: 131, bottom: 0 } },
        plugins: { legend: { display: false }, tooltip: { enabled: false }, title: { display: false } },
        scales: {
          x: {
            type: 'linear',
            min: X_MIN,
            max: X_MAX,
            afterFit: (s: any) => { s.height = 63.5; },
            grid: { display: false, drawTicks: false },
            border: { display: false },
            ticks: {
              stepSize: X_STEP,
              autoSkip: false,
              includeBounds: false,
              maxRotation: 0,
              padding: 19,
              color: '#222',
              font: { family: FONT, size: 17 },
              callback: (v: any) => (Number(v) % X_LABEL_STEP === 0 ? String(v) : ''),
            },
          },
          y: {
            type: 'linear',
            min: Y_MIN,
            max: Y_MAX,
            afterFit: (s: any) => { s.width = 72; },
            grid: { display: false, drawTicks: false },
            border: { display: false },
            ticks: {
              stepSize: Y_STEP,
              autoSkip: false,
              includeBounds: false,
              padding: 22,
              color: '#222',
              font: { family: FONT, size: 17 },
              callback: (v: any) => (Number(v) % Y_LABEL_STEP === 0 ? String(v) : ''),
            },
          },
        },
      },
      plugins: [decorPlugin],
    } as any);
    return () => chart.destroy();
  }, []);
  return (
    <div style={{ position: 'absolute', left: 0, top: 0, width: 1769, height: 1222, background: '#fff' }}>
      <canvas ref={ref} width={1769} height={1222} style={{ display: 'block', width: 1769, height: 1222 }} />
    </div>
  );
}
